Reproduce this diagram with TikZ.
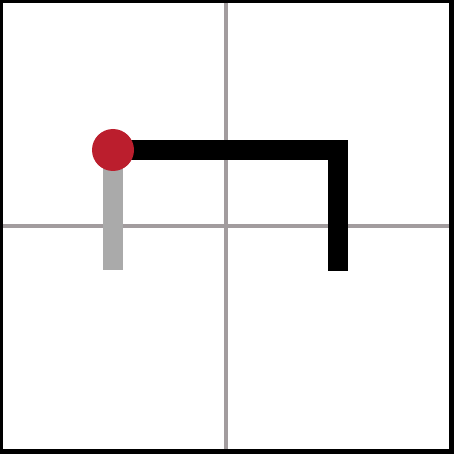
\documentclass[tikz,border=0pt]{standalone}
\definecolor{gridgray}{HTML}{A29C9E}
\definecolor{bargray}{HTML}{AAAAAA}
\definecolor{dotred}{HTML}{BB1E2D}
\begin{document}
\begin{tikzpicture}[x=1pt,y=-1pt,
  gridline/.style={draw=gridgray,line width=4pt},
  barline/.style={line width=20.5pt,line cap=butt},
  dot/.style={circle,fill=dotred,minimum size=42pt,inner sep=0pt}]
\useasboundingbox (0,0) rectangle (454,454);
\fill[black] (0,0) rectangle (454,454);
\fill[white] (3,3) rectangle (448.5,448.5);
\draw[gridline] (3,226) -- (448.5,226);
\draw[gridline] (226,3) -- (226,448.5);
\coordinate (start) at (113,150);
\coordinate (corner) at (338,150);
\coordinate (endb) at (338,271);
\coordinate (endg) at (113,270);
\draw[barline,draw=bargray] (start) -- (endg);
\draw[barline,draw=black,line join=miter] (start) -- (corner) -- (endb);
\node[dot] (d) at (start) {};
\end{tikzpicture}
\end{document}
